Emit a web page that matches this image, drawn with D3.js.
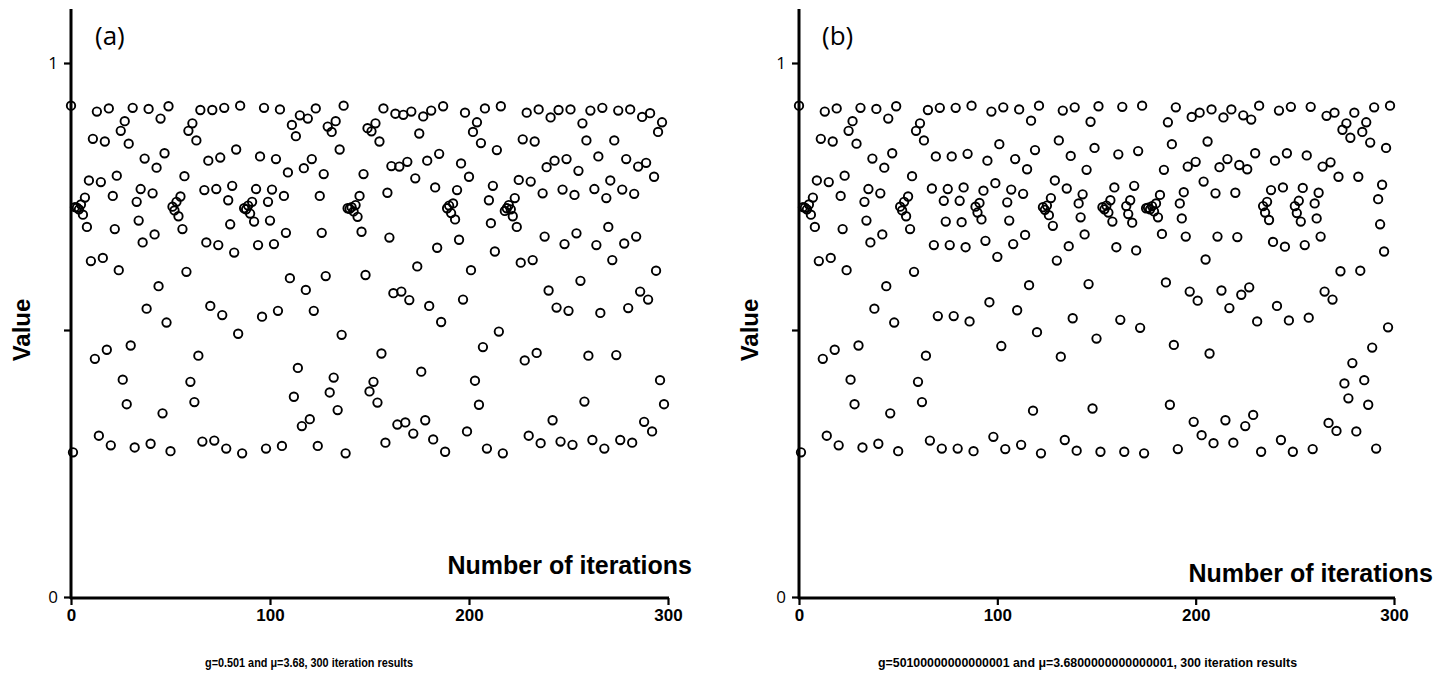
<!DOCTYPE html>
<html>
<head>
<meta charset="utf-8">
<script src="https://cdn.jsdelivr.net/npm/d3@7/dist/d3.min.js"></script>
<style>
  body { margin: 0; background: #fff; }
  svg { display: block; }
</style>
</head>
<body>
<svg id="chart" width="1452" height="678"></svg>
<script>
// values, one per iteration (index = iteration)
const valuesA = [
  0.920, 0.271, 0.730, 0.729, 0.726, 0.735, 0.716, 0.748, 0.693, 0.780,
  0.629, 0.858, 0.446, 0.909, 0.302, 0.777, 0.635, 0.853, 0.463, 0.915,
  0.284, 0.751, 0.689, 0.789, 0.612, 0.873, 0.407, 0.891, 0.361, 0.849,
  0.471, 0.916, 0.280, 0.740, 0.705, 0.764, 0.664, 0.821, 0.540, 0.914,
  0.287, 0.756, 0.679, 0.804, 0.582, 0.896, 0.344, 0.831, 0.514, 0.919,
  0.273, 0.731, 0.724, 0.740, 0.713, 0.750, 0.689, 0.788, 0.609, 0.873,
  0.403, 0.887, 0.365, 0.855, 0.452, 0.912, 0.291, 0.762, 0.664, 0.817,
  0.545, 0.912, 0.293, 0.764, 0.659, 0.823, 0.528, 0.916, 0.278, 0.743,
  0.698, 0.770, 0.645, 0.838, 0.493, 0.920, 0.269, 0.728, 0.726, 0.733,
  0.718, 0.740, 0.703, 0.764, 0.659, 0.825, 0.525, 0.916, 0.278, 0.740,
  0.705, 0.763, 0.661, 0.820, 0.536, 0.913, 0.283, 0.751, 0.682, 0.795,
  0.597, 0.884, 0.375, 0.863, 0.429, 0.902, 0.320, 0.803, 0.575, 0.896,
  0.333, 0.820, 0.536, 0.915, 0.283, 0.751, 0.682, 0.792, 0.601, 0.881,
  0.383, 0.871, 0.411, 0.891, 0.350, 0.838, 0.491, 0.920, 0.269, 0.728,
  0.727, 0.730, 0.722, 0.734, 0.712, 0.751, 0.684, 0.792, 0.603, 0.878,
  0.385, 0.872, 0.403, 0.887, 0.364, 0.853, 0.456, 0.915, 0.289, 0.757,
  0.673, 0.807, 0.569, 0.905, 0.323, 0.806, 0.572, 0.903, 0.327, 0.815,
  0.556, 0.909, 0.306, 0.784, 0.619, 0.868, 0.422, 0.900, 0.331, 0.817,
  0.545, 0.911, 0.295, 0.767, 0.654, 0.830, 0.515, 0.919, 0.272, 0.728,
  0.733, 0.719, 0.737, 0.707, 0.762, 0.669, 0.812, 0.557, 0.907, 0.310,
  0.787, 0.612, 0.871, 0.405, 0.889, 0.360, 0.850, 0.468, 0.915, 0.278,
  0.743, 0.700, 0.770, 0.647, 0.837, 0.497, 0.919, 0.269, 0.723, 0.728,
  0.734, 0.726, 0.713, 0.747, 0.693, 0.781, 0.626, 0.857, 0.443, 0.907,
  0.302, 0.778, 0.631, 0.853, 0.457, 0.913, 0.288, 0.756, 0.675, 0.805,
  0.574, 0.898, 0.331, 0.817, 0.542, 0.912, 0.291, 0.763, 0.661, 0.820,
  0.536, 0.913, 0.285, 0.753, 0.681, 0.798, 0.592, 0.887, 0.366, 0.855,
  0.452, 0.911, 0.294, 0.764, 0.659, 0.825, 0.532, 0.916, 0.278, 0.747,
  0.693, 0.780, 0.631, 0.855, 0.453, 0.911, 0.294, 0.763, 0.662, 0.820,
  0.541, 0.913, 0.289, 0.755, 0.675, 0.806, 0.572, 0.899, 0.328, 0.813,
  0.557, 0.906, 0.310, 0.787, 0.611, 0.871, 0.406, 0.889, 0.361
];

const valuesB = [
  0.920, 0.271, 0.730, 0.729, 0.726, 0.735, 0.716, 0.748, 0.693, 0.780,
  0.629, 0.858, 0.446, 0.909, 0.302, 0.777, 0.635, 0.853, 0.463, 0.915,
  0.284, 0.751, 0.689, 0.789, 0.612, 0.873, 0.407, 0.891, 0.361, 0.849,
  0.471, 0.916, 0.280, 0.740, 0.705, 0.764, 0.664, 0.821, 0.540, 0.914,
  0.287, 0.756, 0.679, 0.804, 0.582, 0.896, 0.344, 0.831, 0.514, 0.919,
  0.273, 0.731, 0.724, 0.740, 0.713, 0.750, 0.689, 0.788, 0.609, 0.873,
  0.403, 0.887, 0.365, 0.855, 0.452, 0.912, 0.293, 0.765, 0.659, 0.825,
  0.526, 0.916, 0.278, 0.742, 0.703, 0.764, 0.659, 0.825, 0.526, 0.916,
  0.278, 0.742, 0.702, 0.767, 0.655, 0.830, 0.516, 0.920, 0.273, 0.731,
  0.720, 0.738, 0.707, 0.761, 0.667, 0.817, 0.552, 0.909, 0.300, 0.775,
  0.637, 0.848, 0.470, 0.917, 0.277, 0.739, 0.705, 0.763, 0.661, 0.820,
  0.537, 0.913, 0.285, 0.755, 0.678, 0.801, 0.584, 0.892, 0.349, 0.837,
  0.496, 0.920, 0.269, 0.730, 0.725, 0.733, 0.715, 0.747, 0.695, 0.780,
  0.630, 0.855, 0.450, 0.911, 0.294, 0.765, 0.657, 0.826, 0.522, 0.917,
  0.274, 0.737, 0.711, 0.754, 0.679, 0.800, 0.586, 0.890, 0.353, 0.841,
  0.484, 0.919, 0.272, 0.730, 0.726, 0.733, 0.720, 0.743, 0.703, 0.767,
  0.655, 0.829, 0.519, 0.918, 0.272, 0.732, 0.717, 0.743, 0.701, 0.770,
  0.649, 0.835, 0.504, 0.920, 0.269, 0.728, 0.729, 0.726, 0.732, 0.722,
  0.737, 0.711, 0.753, 0.680, 0.800, 0.589, 0.889, 0.360, 0.848, 0.472,
  0.917, 0.277, 0.737, 0.709, 0.758, 0.675, 0.806, 0.572, 0.899, 0.328,
  0.815, 0.555, 0.907, 0.303, 0.778, 0.632, 0.853, 0.456, 0.913, 0.288,
  0.756, 0.675, 0.805, 0.574, 0.898, 0.331, 0.820, 0.541, 0.913, 0.289,
  0.757, 0.674, 0.809, 0.566, 0.902, 0.320, 0.801, 0.580, 0.894, 0.341,
  0.831, 0.516, 0.920, 0.272, 0.732, 0.720, 0.740, 0.706, 0.762, 0.665,
  0.817, 0.545, 0.911, 0.294, 0.767, 0.656, 0.831, 0.518, 0.918, 0.272,
  0.732, 0.719, 0.742, 0.703, 0.766, 0.659, 0.827, 0.523, 0.918, 0.277,
  0.737, 0.709, 0.757, 0.675, 0.806, 0.572, 0.901, 0.326, 0.814, 0.557,
  0.907, 0.311, 0.787, 0.610, 0.875, 0.400, 0.887, 0.372, 0.860, 0.438,
  0.907, 0.310, 0.787, 0.611, 0.871, 0.406, 0.889, 0.360, 0.851, 0.467,
  0.917, 0.278, 0.745, 0.698, 0.772, 0.647, 0.841, 0.505, 0.920
];

const xTicks = [0, 100, 200, 300];
const yTicks = [0, 0.5, 1];
const yLabelled = [0, 1];

const panels = [
  { tag: '(a)', values: valuesA, caption: 'g=0.501 and \u03bc=3.68, 300 iteration results',
    left: 71, right: 668, titleX: 692, titleY: 574, valueX: 30, tagX: 95,
    capX: 205, capW: 208 },
  { tag: '(b)', values: valuesB, caption: 'g=50100000000000001 and \u03bc=3.6800000000000001, 300 iteration results',
    left: 799, right: 1394, titleX: 1433, titleY: 582, valueX: 758, tagX: 822,
    capX: 878, capW: 419 }
];

const plotTop = 63, plotBottom = 597;
const svg = d3.select('#chart');

panels.forEach(p => {
  const x = d3.scaleLinear().domain([0, 300]).range([p.left, p.right]);
  const y = d3.scaleLinear().domain([0, 1]).range([plotBottom, plotTop]);
  const g = svg.append('g');

  // points
  g.append('g')
    .selectAll('circle')
    .data(p.values)
    .enter()
    .append('circle')
    .attr('cx', (d, i) => x(i))
    .attr('cy', d => y(d))
    .attr('r', 4.2)
    .attr('fill', 'none')
    .attr('stroke', '#000')
    .attr('stroke-width', 1.9);

  // axes
  const yAxis = g.append('g')
    .attr('transform', `translate(${p.left},0)`)
    .call(d3.axisLeft(y).tickValues(yTicks).tickSize(7).tickPadding(6)
      .tickFormat(d => yLabelled.includes(d) ? d3.format('d')(d) : ''));
  yAxis.select('.domain').remove();
  yAxis.selectAll('line').attr('stroke-width', 2.2);
  yAxis.selectAll('text')
    .attr('font-family', '"Open Sans", "DejaVu Sans", sans-serif')
    .attr('font-size', 17)
    .attr('fill', '#000');

  const xAxis = g.append('g')
    .attr('transform', `translate(0,${plotBottom + 1})`)
    .call(d3.axisBottom(x).tickValues(xTicks).tickSize(7).tickPadding(4).tickFormat(d3.format('d')));
  xAxis.select('.domain').remove();
  xAxis.selectAll('line').attr('stroke-width', 2.2);
  xAxis.selectAll('text')
    .attr('font-family', '"Liberation Sans", Arial, sans-serif')
    .attr('font-weight', 'bold')
    .attr('font-size', 17)
    .attr('fill', '#000');

  // heavy axis lines, left one runs above the 1 tick
  g.append('line')
    .attr('x1', p.left).attr('x2', p.left)
    .attr('y1', 9).attr('y2', plotBottom + 2)
    .attr('stroke', '#000').attr('stroke-width', 3);
  g.append('line')
    .attr('x1', p.left - 1).attr('x2', p.right + 1)
    .attr('y1', plotBottom + 1).attr('y2', plotBottom + 1)
    .attr('stroke', '#000').attr('stroke-width', 3);

  // texts
  g.append('text')
    .attr('x', p.tagX).attr('y', 45)
    .attr('font-family', '"Open Sans", "DejaVu Sans", sans-serif')
    .attr('font-size', 26)
    .text(p.tag);

  g.append('text')
    .attr('transform', `translate(${p.valueX},${(plotTop + plotBottom) / 2}) rotate(-90)`)
    .attr('text-anchor', 'middle')
    .attr('font-family', '"Liberation Sans", Arial, sans-serif')
    .attr('font-weight', 'bold')
    .attr('font-size', 24)
    .text('Value');

  g.append('text')
    .attr('x', p.titleX).attr('y', p.titleY)
    .attr('text-anchor', 'end')
    .attr('font-family', '"Liberation Sans", Arial, sans-serif')
    .attr('font-weight', 'bold')
    .attr('font-size', 25)
    .text('Number of iterations');

  g.append('text')
    .attr('x', p.capX).attr('y', 667)
    .attr('font-family', '"Liberation Sans", Arial, sans-serif')
    .attr('font-weight', 'bold')
    .attr('font-size', 12)
    .attr('textLength', p.capW)
    .attr('lengthAdjust', 'spacingAndGlyphs')
    .text(p.caption);
});
</script>
</body>
</html>
